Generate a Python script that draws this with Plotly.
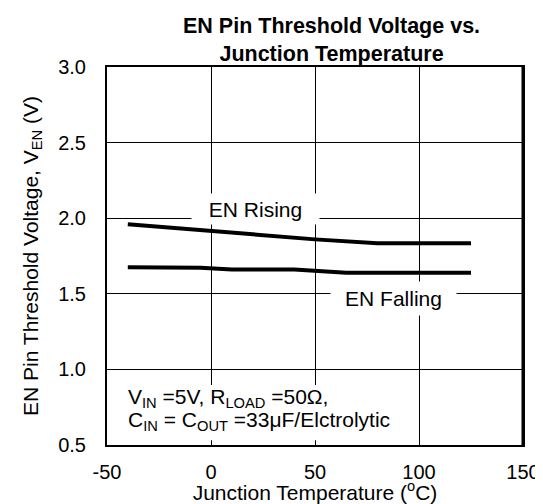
import plotly.graph_objects as go

temp_rise = [-40, 0, 10, 25, 50, 80, 125]
v_rise = [1.96, 1.915, 1.905, 1.885, 1.86, 1.835, 1.835]
temp_fall = [-40, -5, 10, 40, 65, 125]
v_fall = [1.675, 1.673, 1.66, 1.66, 1.64, 1.64]

x_ticks = [-50, 0, 50, 100, 150]
x_tick_text = ["-50", "0", "50", "100", "150"]
y_ticks = [0.5, 1.0, 1.5, 2.0, 2.5, 3.0]

FONT = "Arial, 'Liberation Sans', Helvetica, sans-serif"

fig = go.Figure()
fig.add_trace(go.Scatter(x=temp_rise, y=v_rise, mode="lines",
                         line=dict(color="black", width=4), name="EN Rising"))
fig.add_trace(go.Scatter(x=temp_fall, y=v_fall, mode="lines",
                         line=dict(color="black", width=4), name="EN Falling"))

# page body has an 8px margin, so the figure is drawn 8px smaller and offset
fig.update_layout(
    width=535, height=496,
    margin=dict(l=99, r=20, t=59, b=59, autoexpand=False),
    paper_bgcolor="white", plot_bgcolor="white",
    showlegend=False,
    font=dict(family=FONT, color="black", size=20),
)
fig.update_xaxes(
    range=[-50, 150], tickvals=x_ticks, ticktext=x_tick_text, showgrid=True,
    gridcolor="black", gridwidth=1, automargin=False,
    showline=True, linecolor="black", linewidth=2, mirror=True, zeroline=False,
    ticks="", ticklabelstandoff=8, tickfont=dict(size=20),
    title=dict(text="Junction Temperature (<sup>o</sup>C)", font=dict(size=21), standoff=2),
)
fig.update_yaxes(
    range=[0.5, 3.0], tickvals=y_ticks, tickformat=".1f", showgrid=True, gridcolor="black",
    gridwidth=1, showline=True, linecolor="black", linewidth=2, mirror=True, zeroline=False,
    ticks="", ticklabelstandoff=15, tickfont=dict(size=20), automargin=False,
    title=dict(text="EN Pin Threshold Voltage, V<sub>EN</sub> (V)", font=dict(size=21), standoff=14),
)
# thicker right border
fig.add_shape(type="line", xref="paper", yref="paper", x0=1, x1=1, y0=0, y1=1,
              line=dict(color="black", width=3))
# white box behind the conditions note
fig.add_shape(type="rect", x0=-44, x1=85.8, y0=0.532, y1=0.896, layer="between",
              fillcolor="white", line=dict(width=0))

fig.add_annotation(x=0.54, y=1.071, xref="paper", yref="paper", showarrow=False,
                   text="<b>EN Pin Threshold Voltage vs.<br>Junction Temperature</b>",
                   font=dict(size=21.5, family=FONT), yanchor="middle")
fig.add_annotation(x=21.4, y=2.062, showarrow=False, text="EN Rising",
                   bgcolor="white", width=125, height=28, borderpad=1,
                   font=dict(size=21))
fig.add_annotation(x=87.7, y=1.469, showarrow=False, text="EN Falling",
                   bgcolor="white", width=123, height=31, borderpad=1,
                   font=dict(size=21))
fig.add_annotation(x=-41, y=0.81, showarrow=False, xanchor="left", yanchor="middle",
                   text="V<sub>IN</sub> =5V, R<sub>LOAD</sub> =50Ω,",
                   font=dict(size=21))
fig.add_annotation(x=-41, y=0.658, showarrow=False, xanchor="left", yanchor="middle",
                   text="C<sub>IN</sub> = C<sub>OUT</sub> =33μF/Elctrolytic",
                   font=dict(size=21))

fig.write_html("out.html")
